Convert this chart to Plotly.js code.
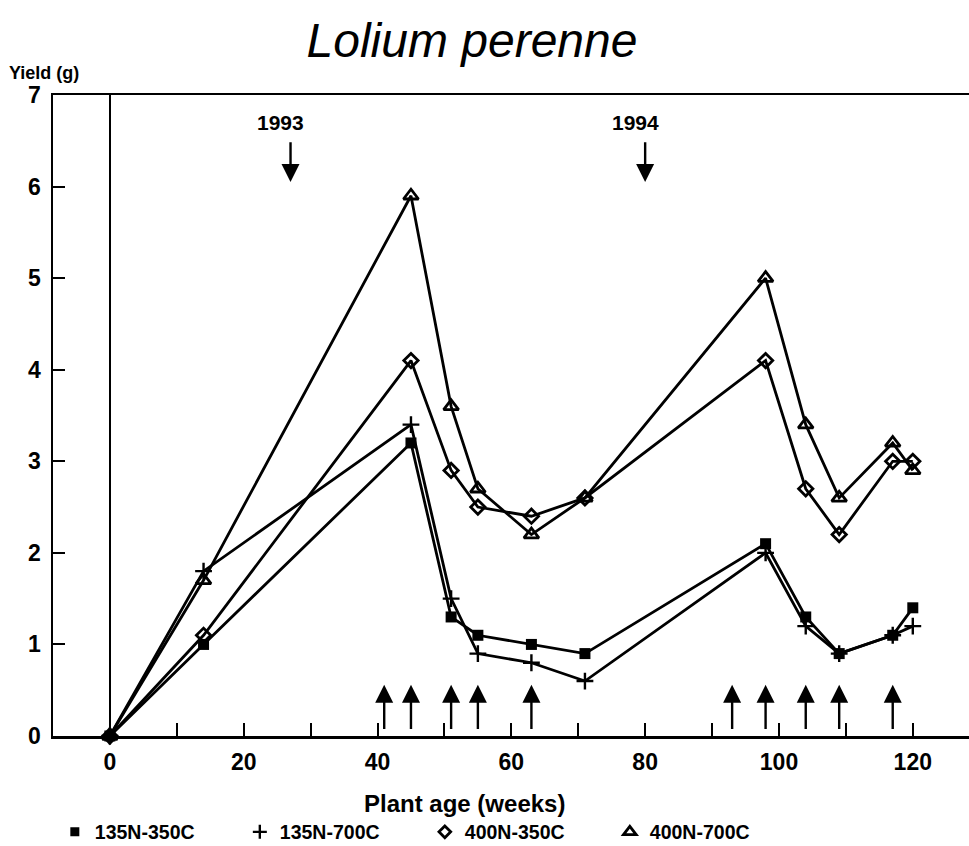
<!DOCTYPE html>
<html>
<head>
<meta charset="utf-8">
<script src="https://cdn.plot.ly/plotly-3.0.1.min.js"></script>
<style>html,body{margin:0;padding:0;background:#fff;}#chart{width:969px;height:846px;}</style>
</head>
<body>
<div id="chart"></div>
<script>
// Data
const weeks = [0, 14, 45, 51, 55, 63, 71, 98, 104, 109, 117, 120];
const seriesNames = ['135N-350C', '135N-700C', '400N-350C', '400N-700C'];
const y135N350C = [0, 1.0, 3.2, 1.3, 1.1, 1.0, 0.9, 2.1, 1.3, 0.9, 1.1, 1.4];
const y135N700C = [0, 1.8, 3.4, 1.5, 0.9, 0.8, 0.6, 2.0, 1.2, 0.9, 1.1, 1.2];
const y400N350C = [0, 1.1, 4.1, 2.9, 2.5, 2.4, 2.6, 4.1, 2.7, 2.2, 3.0, 3.0];
const y400N700C = [0, 1.7, 5.9, 3.6, 2.7, 2.2, 2.6, 5.0, 3.4, 2.6, 3.2, 2.9];
const harvestWeeks = [41, 45, 51, 55, 63, 93, 98, 104, 109, 117];
const yearLabels = ['1993', '1994'];
const yearWeeks = [27, 80];
const xTickVals = [0, 10, 20, 30, 40, 50, 60, 70, 80, 90, 100, 110, 120];
const xTickText = ['0', '', '20', '', '40', '', '60', '', '80', '', '100', '', '120'];
const yTickVals = [0, 1, 2, 3, 4, 5, 6, 7];

const FONT = 'Liberation Sans, Arial, sans-serif';
const ys = [y135N350C, y135N700C, y400N350C, y400N700C];
const markers = [
  {symbol: 'square', size: 11, color: '#000'},
  {symbol: 'cross-thin-open', size: 12, color: '#000', line: {width: 2.4, color: '#000'}},
  {symbol: 'diamond-open', size: 11, color: '#000', line: {width: 2.8, color: '#000'}},
  {symbol: 'triangle-up-open', size: 13, color: '#000', line: {width: 2.8, color: '#000'}}
];

const traces = [];
ys.forEach((y, i) => {
  traces.push({
    x: weeks, y: y, mode: 'lines+markers', name: seriesNames[i], showlegend: false,
    line: {color: '#000', width: 2.8}, marker: markers[i], cliponaxis: false
  });
});
ys.forEach((y, i) => {
  traces.push({
    x: [null], y: [null], mode: 'markers', name: seriesNames[i], showlegend: true,
    marker: Object.assign({}, markers[i], {size: markers[i].size - 2})
  });
});

const annotations = [];
harvestWeeks.forEach(w => {
  annotations.push({
    x: w, y: 0.56, ax: w, ay: 0.06, xref: 'x', yref: 'y', axref: 'x', ayref: 'y',
    text: '', showarrow: true, arrowhead: 2, arrowsize: 1.5, arrowwidth: 2.4, arrowcolor: '#000'
  });
});
yearWeeks.forEach((w, i) => {
  annotations.push({
    x: w, y: 6.05, ax: w, ay: 6.5, xref: 'x', yref: 'y', axref: 'x', ayref: 'y',
    text: '', showarrow: true, arrowhead: 2, arrowsize: 1.5, arrowwidth: 2.4, arrowcolor: '#000'
  });
  annotations.push({
    x: w - 1.5, y: 6.7, xref: 'x', yref: 'y', text: yearLabels[i], showarrow: false,
    font: {family: FONT, size: 21, color: '#000', weight: 'bold'}
  });
});
annotations.push({
  x: -0.0098, y: 1.034, xref: 'paper', yref: 'paper', text: 'Yield (g)', showarrow: false,
  xanchor: 'center', yanchor: 'middle', font: {family: FONT, size: 18, color: '#000', weight: 'bold'}
});
annotations.push({
  x: 0.4487, y: -0.106, xref: 'paper', yref: 'paper', text: 'Plant age (weeks)', showarrow: false,
  xanchor: 'center', yanchor: 'middle', font: {family: FONT, size: 24, color: '#000', weight: 'bold'}
});

const layout = {
  width: 969, height: 846,
  margin: {l: 53, r: 0, t: 95, b: 110, autoexpand: false},
  paper_bgcolor: '#fff', plot_bgcolor: '#fff',
  title: {
    text: 'Lolium perenne', x: 472 / 969, xref: 'container', xanchor: 'center',
    y: 1 - 40 / 846, yref: 'container', yanchor: 'middle',
    font: {family: FONT, size: 48, color: '#000', style: 'italic'}
  },
  xaxis: {
    range: [-8.5, 128.4], showgrid: false, zeroline: true, zerolinecolor: '#000', zerolinewidth: 1.5,
    showline: true, linecolor: '#000', linewidth: 2.5, mirror: true,
    ticks: 'inside', ticklen: 13, tickwidth: 2, tickcolor: '#000',
    tickvals: xTickVals, ticktext: xTickText,
    tickfont: {family: FONT, size: 23, color: '#000', weight: 'bold'}, ticklabelstandoff: 4
  },
  yaxis: {
    range: [0, 7], showgrid: false, zeroline: false,
    showline: true, linecolor: '#000', linewidth: 2.5, mirror: false,
    ticks: 'inside', ticklen: 12, tickwidth: 2, tickcolor: '#000',
    tickvals: yTickVals,
    tickfont: {family: FONT, size: 23, color: '#000', weight: 'bold'}, ticklabelstandoff: 5
  },
  legend: {
    orientation: 'h', x: 0.002, xanchor: 'left', y: -0.15, yanchor: 'middle',
    xref: 'paper', yref: 'paper',
    entrywidth: 140, entrywidthmode: 'pixels',
    font: {family: FONT, size: 19.5, color: '#000', weight: 'bold'}, bgcolor: 'rgba(0,0,0,0)'
  },
  annotations: annotations,
  showlegend: true
};

Plotly.newPlot('chart', traces, layout, {displayModeBar: false, staticPlot: true});
</script>
</body>
</html>
